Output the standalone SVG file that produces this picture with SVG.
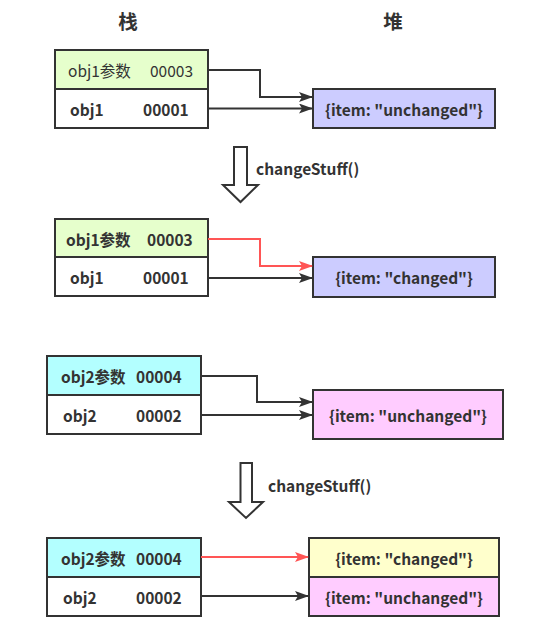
<svg xmlns="http://www.w3.org/2000/svg" width="546" height="626" viewBox="0 0 546 626">
<defs>
<style>
text{font-family:"Noto Sans CJK SC","Noto Sans",sans-serif;fill:#333;font-weight:bold;font-size:15.5px;dominant-baseline:central}
.n{font-weight:normal}
.t{font-size:19.5px}
.box{stroke:#333;stroke-width:2}
.ln{fill:none;stroke:#333;stroke-width:2}
.red{fill:none;stroke:#f55;stroke-width:2}
.hol{fill:#fff;stroke:#333;stroke-width:2;stroke-linejoin:miter}
.mid{text-anchor:middle}
</style>
<marker id="ab" viewBox="0 0 14 10" refX="13" refY="5" markerWidth="14" markerHeight="10" markerUnits="userSpaceOnUse" orient="auto"><path d="M0,0 L14,5 L0,10 L3,5 Z" fill="#333"/></marker>
<marker id="ar" viewBox="0 0 14 10" refX="13" refY="5" markerWidth="14" markerHeight="10" markerUnits="userSpaceOnUse" orient="auto"><path d="M0,0 L14,5 L0,10 L3,5 Z" fill="#f55"/></marker>
</defs>
<rect width="546" height="626" fill="#fff"/>
<text class="t mid" x="128" y="20">栈</text>
<text class="t mid" x="393" y="20">堆</text>

<g id="stack1">
<rect class="box" x="55" y="50" width="153" height="39" fill="#e6ffcc"/>
<rect class="box" x="55" y="89" width="153" height="39" fill="#fff"/>
<text class="n" x="68" y="70">obj1参数</text>
<text class="n" x="150" y="70">00003</text>
<text x="70" y="108.5">obj1</text>
<text x="143" y="108.5">00001</text>
</g>
<g id="heap1">
<rect class="box" x="313" y="89" width="182" height="39" fill="#ccccff"/>
<text class="mid" x="404" y="108.5">{item: "unchanged"}</text>
</g>

<g id="step1">
<path class="hol" d="M234,147 H247 V185 H258 L240.5,202 L223,185 H234 Z"/>
<text x="256" y="168">changeStuff()</text>
</g>

<g id="stack2">
<rect class="box" x="55" y="219" width="153" height="38" fill="#e6ffcc"/>
<rect class="box" x="55" y="257" width="153" height="39" fill="#fff"/>
<text x="66" y="238.5">obj1参数</text>
<text x="147" y="238.5">00003</text>
<text x="70" y="277">obj1</text>
<text x="143" y="277">00001</text>
</g>
<g id="heap2">
<rect class="box" x="313" y="257" width="182" height="40" fill="#ccccff"/>
<text class="mid" x="404" y="277">{item: "changed"}</text>
</g>

<g id="stack3">
<rect class="box" x="47" y="356" width="154" height="39" fill="#b3ffff"/>
<rect class="box" x="47" y="395" width="154" height="39" fill="#fff"/>
<text x="61" y="375.5">obj2参数</text>
<text x="136" y="375.5">00004</text>
<text x="63" y="414.5">obj2</text>
<text x="136" y="414.5">00002</text>
</g>
<g id="heap3">
<rect class="box" x="313" y="390" width="190" height="49" fill="#ffccff"/>
<text class="mid" x="408" y="414.5">{item: "unchanged"}</text>
</g>

<g id="step2">
<path class="hol" d="M240.5,463 H252 V502 H263 L246,518 L229,502 H240.5 Z"/>
<text x="268" y="485">changeStuff()</text>
</g>

<g id="stack4">
<rect class="box" x="47" y="538" width="154" height="39" fill="#b3ffff"/>
<rect class="box" x="47" y="577" width="154" height="39" fill="#fff"/>
<text x="61" y="557.5">obj2参数</text>
<text x="136" y="557.5">00004</text>
<text x="63" y="596.5">obj2</text>
<text x="136" y="596.5">00002</text>
</g>
<g id="heap4">
<rect class="box" x="309" y="538" width="190" height="39" fill="#ffffcc"/>
<rect class="box" x="309" y="577" width="190" height="39" fill="#ffccff"/>
<text class="mid" x="404" y="557.5">{item: "changed"}</text>
<text class="mid" x="404" y="596.5">{item: "unchanged"}</text>
</g>

<g id="connectors">
<path class="ln" d="M208,70 H260 V97 H312" marker-end="url(#ab)"/>
<path class="ln" d="M208,108.5 H312" marker-end="url(#ab)"/>
<path class="red" d="M208,239 H260 V266 H312" marker-end="url(#ar)"/>
<path class="ln" d="M208,278 H312" marker-end="url(#ab)"/>
<path class="ln" d="M201,376 H257 V402 H312" marker-end="url(#ab)"/>
<path class="ln" d="M201,415 H312" marker-end="url(#ab)"/>
<path class="red" d="M201,557 H308" marker-end="url(#ar)"/>
<path class="ln" d="M201,596 H308" marker-end="url(#ab)"/>
</g>
</svg>
